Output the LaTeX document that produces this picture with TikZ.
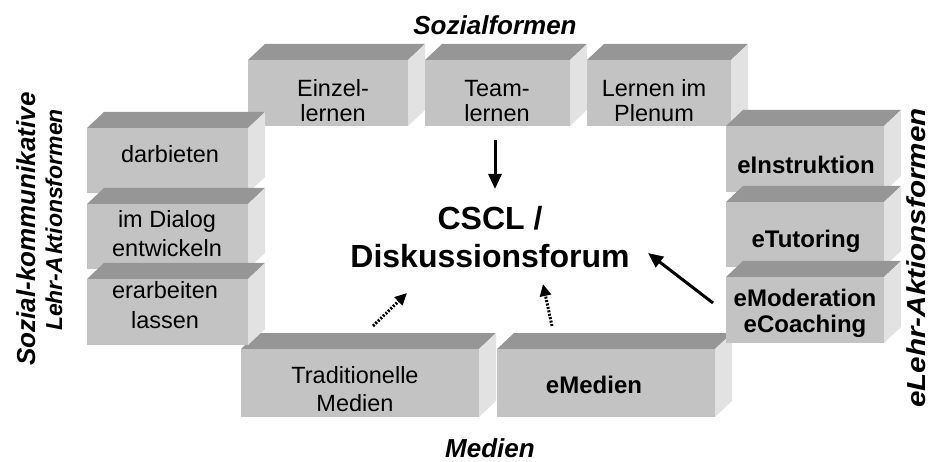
\documentclass[tikz,border=0pt]{standalone}
\usepackage{fontspec}
\usepackage{graphicx}
\setmainfont{Liberation Sans}
\usetikzlibrary{arrows.meta}

\definecolor{facefront}{HTML}{C3C3C3}
\definecolor{facetop}{HTML}{969696}
\definecolor{faceside}{HTML}{E2E2E2}

% centred lines whose anchor "base" is the baseline of the first line
\newcommand\blocklines[1]{\begin{tabular}[t]{@{}c@{}}#1\end{tabular}}

% \solidblock{name}{x1}{y1}{x2}{y2}: a shaded 3D block, front face (x1,y1)-(x2,y2)
\newcommand\solidblock[5]{%
  \fill[facetop] (#2,#3) -- ++(17,-16) -- (#4+17,#3-16) -- (#4,#3) -- cycle;
  \fill[faceside] (#4,#3) -- (#4+17,#3-16) -- (#4+17,#5-16) -- (#4,#5) -- cycle;
  \node[frontface, minimum width={(#4-#2)*1pt}, minimum height={(#5-#3)*1pt}]
    (#1) at ({(#2+#4)/2},{(#3+#5)/2}) {};
}

\tikzset{
  frontface/.style={rectangle, fill=facefront, inner sep=0pt, outer sep=0pt},
  boxtext/.style={anchor=base, inner sep=0pt, font=\fontsize{23.5}{#1}\selectfont},
  boxtext/.default=25,
  boxbold/.style={anchor=base, inner sep=0pt, font=\fontsize{24}{#1}\selectfont\bfseries},
  boxbold/.default=26,
  heading/.style={anchor=base, inner sep=0pt, font=\fontsize{#1}{28}\selectfont\bfseries\itshape},
  heading/.default=26,
  solidarrow/.style={line width=3pt, -{Triangle[width=13pt,length=15pt]}},
  dottedarrow/.style={line width=3pt, dash pattern=on 2pt off 1.5pt, -{Triangle[width=11pt,length=12pt]}},
}

\begin{document}
\begin{tikzpicture}[x=1pt, y=-1pt]
\useasboundingbox (0,0) rectangle (929,462);

% Sozialformen (top row)
\solidblock{einzel}{248}{60}{408}{126}
\solidblock{team}{425}{60}{570}{126}
\solidblock{plenum}{587}{60}{731}{126}

% Medien (bottom row)
\solidblock{tradmedien}{241}{349}{479}{417}
\solidblock{emedien}{497}{349}{715}{417}

% social-communicative teaching forms (left column)
\solidblock{darbieten}{87}{128}{248}{193}
\solidblock{dialog}{87}{204}{248}{269}
\solidblock{erarbeiten}{87}{279}{248}{345}

% e-teaching forms (right column)
\solidblock{einstruktion}{726}{126}{884}{192}
\solidblock{etutoring}{726}{202}{884}{267}
\solidblock{emoderation}{726}{277}{884}{343}

% block texts
\node[boxtext] (einzel-t) at (333,97) {\blocklines{Einzel-\\lernen}};
\node[boxtext] (team-t) at (497,97) {\blocklines{Team-\\lernen}};
\node[boxtext] (plenum-t) at (654,97) {\blocklines{Lernen im\\Plenum}};
\node[boxtext=28] (tradmedien-t) at (355,383) {\blocklines{Traditionelle\\Medien}};
\node[boxbold] (emedien-t) at (594,393) {\blocklines{eMedien}};
\node[boxtext] (darbieten-t) at (170,163) {\blocklines{darbieten}};
\node[boxtext=29] (dialog-t) at (167,228) {\blocklines{im Dialog\\entwickeln}};
\node[boxtext=29] (erarbeiten-t) at (165,299) {\blocklines{erarbeiten\\lassen}};
\node[boxbold] (einstruktion-t) at (806,174) {\blocklines{eInstruktion}};
\node[boxbold] (etutoring-t) at (806,248) {\blocklines{eTutoring}};
\node[boxbold] (emoderation-t) at (805,307) {\blocklines{eModeration\\eCoaching}};

% centre
\node[anchor=base, inner sep=0pt, font=\fontsize{32}{38}\selectfont\bfseries]
  (cscl) at (490,230) {\blocklines{CSCL /\\Diskussionsforum}};

% headings
\node[heading] (sozialformen) at (495,35) {Sozialformen};
\node[heading] (medien) at (490,457) {Medien};
\node[heading, rotate=90] (sozkomm) at (35,229) {Sozial-kommunikative};
\node[heading=23, rotate=90] (lehrakt) at (62,220) {Lehr-A\kern2pt ktionsformen};
\node[heading, rotate=90] (elehrakt) at (925,258) {\scalebox{1.14}[1]{eLehr-Aktionsformen}};

% arrows towards the forum
\coordinate (topstart) at (495,140);
\coordinate (topend) at (495,189);
\coordinate (rightstart) at (713,303);
\coordinate (rightend) at (648,253);
\coordinate (tradstart) at (373,326);
\coordinate (tradend) at (407,293);
\coordinate (estart) at (552,326);
\coordinate (eend) at (543,284);
\draw[solidarrow] (topstart) -- (topend);
\draw[solidarrow] (rightstart) -- (rightend);
\draw[dottedarrow] (tradstart) -- (tradend);
\draw[dottedarrow] (estart) -- (eend);
\end{tikzpicture}
\end{document}
